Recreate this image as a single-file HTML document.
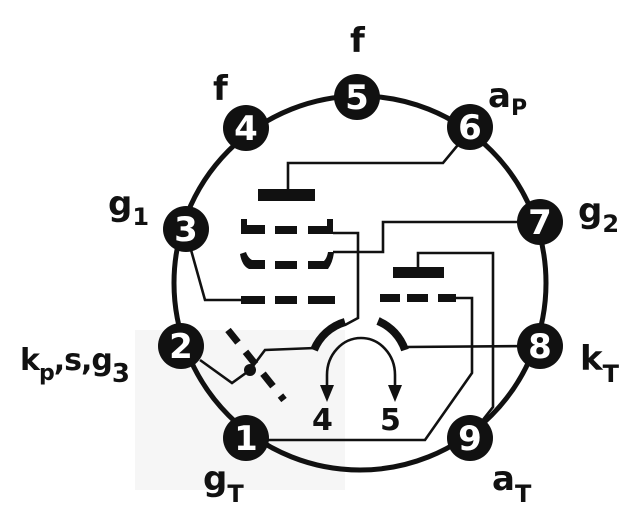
<!DOCTYPE html>
<html><head><meta charset="utf-8"><style>
html,body{margin:0;padding:0;background:#fff;}
svg{display:block;}
text{font-family:"DejaVu Sans","Liberation Sans",sans-serif;font-weight:bold;}
</style></head><body>
<svg width="640" height="527" viewBox="0 0 640 527" xmlns="http://www.w3.org/2000/svg">
<rect width="640" height="527" fill="#fff"/>
<rect x="135" y="330" width="210" height="160" fill="#f6f6f6"/>
<ellipse cx="360" cy="283" rx="186" ry="187" fill="none" stroke="#111" stroke-width="5"/>
<g stroke="#111" stroke-width="2.6" fill="none">
<polyline points="288,190 288,163 443,163 462,140"/>
<polyline points="333,233 358,233 358,318 345,325"/>
<polyline points="333,252 383,252 383,222 540,222"/>
<polyline points="186,232 205,300 241,300"/>
<polyline points="418,267 418,253 493,253 493,407 470,436"/>
<polyline points="456,298 472,298 472,373 425,440 262,440"/>
<polyline points="315,348 265,350 250,370 232,383 200,360"/>
<polyline points="405,347 540,346"/>
<path d="M327,393 L327,375 A34,37 0 0 1 395,375 L395,393"/>
</g>
<polygon points="320,385 334,385 327,402" fill="#111"/>
<polygon points="388,385 402,385 395,402" fill="#111"/>
<rect x="258" y="189" width="57" height="12" fill="#111"/>
<rect x="393" y="267" width="51" height="11" fill="#111"/>
<g fill="#111">
<path d="M241,219 h6 v6 h18 v9 h-24z"/>
<rect x="275" y="226" width="22" height="8"/>
<path d="M308,226 h19 v-7 h6 v15 h-25z"/>
<path d="M240,254 l6,-2 q2,6 6,8 h13 v9 h-16 q-7,-3 -9,-15z"/>
<rect x="275" y="261" width="22" height="8"/>
<path d="M308,261 h16 q3,-3 4,-9 h6 q-1,10 -6,17 h-20z"/>
<rect x="241" y="296" width="24" height="8"/>
<rect x="275" y="296" width="22" height="8"/>
<rect x="308" y="296" width="27" height="8"/>
<rect x="380" y="294" width="20" height="8"/>
<rect x="407" y="294" width="21" height="8"/>
<rect x="438" y="294" width="18" height="8"/>
</g>
<g stroke="#111" stroke-width="8" fill="none">
<path d="M314,350 A48,48 0 0 1 345,322"/>
<path d="M378,321 A48,48 0 0 1 405,350"/>
</g>
<line x1="228" y1="330" x2="284" y2="400" stroke="#111" stroke-width="7" stroke-dasharray="16,12"/>
<circle cx="250" cy="370" r="6" fill="#111"/>
<g fill="#111">
<circle cx="357" cy="97" r="23"/>
<circle cx="246" cy="128" r="23"/>
<circle cx="470" cy="127" r="23"/>
<circle cx="186" cy="229" r="23"/>
<circle cx="540" cy="222" r="23"/>
<circle cx="181" cy="346" r="23"/>
<circle cx="540" cy="346" r="23"/>
<circle cx="246" cy="438" r="23"/>
<circle cx="470" cy="438" r="23"/>
</g>
<g fill="#fff" font-size="34" text-anchor="middle">
<text x="357" y="109">5</text>
<text x="246" y="140">4</text>
<text x="470" y="139">6</text>
<text x="186" y="241">3</text>
<text x="540" y="234">7</text>
<text x="181" y="358">2</text>
<text x="540" y="358">8</text>
<text x="246" y="450">1</text>
<text x="470" y="450">9</text>
</g>
<g fill="#111" font-size="34">
<text x="350" y="52">f</text>
<text x="213" y="100">f</text>
<text x="488" y="107">a<tspan font-size="22" dy="8">P</tspan></text>
<text x="108" y="215">g<tspan font-size="24" dy="10">1</tspan></text>
<text x="578" y="222">g<tspan font-size="24" dy="10">2</tspan></text>
<text x="20" y="370" font-size="30" letter-spacing="-1">k<tspan font-size="22" dy="10">p</tspan><tspan dy="-10">,s,g</tspan><tspan font-size="26" dy="12">3</tspan></text>
<text x="580" y="370">k<tspan font-size="24" dy="12">T</tspan></text>
<text x="203" y="490">g<tspan font-size="24" dy="12">T</tspan></text>
<text x="492" y="490">a<tspan font-size="24" dy="12">T</tspan></text>
<text x="312" y="430" font-size="30">4</text>
<text x="380" y="430" font-size="30">5</text>
</g>
</svg>
</body></html>
